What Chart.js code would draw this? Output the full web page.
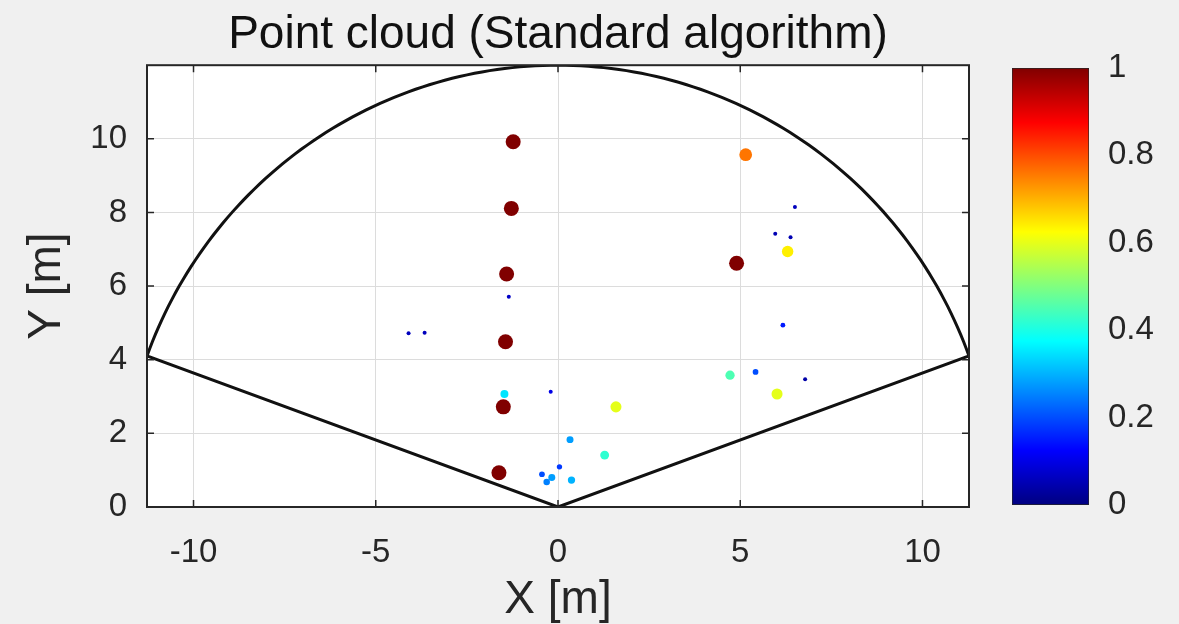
<!DOCTYPE html>
<html>
<head>
<meta charset="utf-8">
<script src="https://cdn.jsdelivr.net/npm/chart.js@4.4.1/dist/chart.umd.min.js"></script>
<style>
  html, body { margin: 0; padding: 0; background: #f0f0f0; }
  #wrap { position: relative; width: 1179px; height: 624px; overflow: hidden; }
  #cloud { position: absolute; left: 0; top: 0; }
  #cbar { position: absolute; left: 1011px; top: 0; }
</style>
</head>
<body>
<div id="wrap">
  <canvas id="cloud" width="1000" height="624"></canvas>
  <canvas id="cbar" width="168" height="624"></canvas>
</div>
<script>
// detected points (x, y in metres, normalised intensity)
const pointX = [-1.23, -1.28, -1.41, -1.44, -1.50, -1.62, 4.90, 5.15, 6.30, 6.01, 1.59,
  4.72, 1.28, 0.33, 0.37, -0.17, -0.31, -0.44, 0.04, -1.47, -0.20, 5.42, 6.17,
  -1.35, -4.10, -3.66, 6.50, 5.96, 6.38, 6.78];
const pointY = [9.92, 8.11, 6.33, 4.49, 2.72, 0.93, 6.62, 9.57, 6.94, 3.07, 2.72,
  3.58, 1.41, 1.83, 0.73, 0.80, 0.68, 0.89, 1.09, 3.07, 3.13, 3.67, 4.94,
  5.71, 4.72, 4.73, 8.15, 7.42, 7.33, 3.47];
const pointValue = [1, 1, 1, 1, 1, 1, 1, 0.76, 0.64, 0.6, 0.6,
  0.45, 0.42, 0.28, 0.3, 0.28, 0.25, 0.2, 0.18, 0.35, 0.1, 0.2, 0.15,
  0.07, 0.06, 0.06, 0.06, 0.05, 0.05, 0.04];

// sensor field of view
const fovRadius = 12;
const fovStartDeg = 20;
const fovEndDeg = 160;

const xTicks = [-10, -5, 0, 5, 10];
const yTicks = [0, 2, 4, 6, 8, 10];
const cbTicks = [0, 0.2, 0.4, 0.6, 0.8, 1];
const jetStops = [0, 0.125, 0.375, 0.625, 0.875, 1];

const FONT = "'Liberation Sans', Arial, sans-serif";
const INK = '#262626';

const clamp = (v) => Math.max(0, Math.min(1, v));
const jet = (v) => {
  const r = clamp(1.5 - Math.abs(4 * v - 3));
  const g = clamp(1.5 - Math.abs(4 * v - 2));
  const b = clamp(1.5 - Math.abs(4 * v - 1));
  return `rgb(${Math.round(r * 255)},${Math.round(g * 255)},${Math.round(b * 255)})`;
};

const rad = (d) => d * Math.PI / 180;
const xLimit = fovRadius * Math.cos(rad(fovStartDeg));

const fovOutline = [{ x: 0, y: 0 }];
for (let d = fovEndDeg; d >= fovStartDeg; d--) {
  fovOutline.push({ x: fovRadius * Math.cos(rad(d)), y: fovRadius * Math.sin(rad(d)) });
}
fovOutline.push({ x: 0, y: 0 });

const cloudPoints = pointX.map((x, i) => ({ x: x, y: pointY[i] }));

// white axes background, box and inward ticks like matlab
const boxPlugin = {
  id: 'box',
  beforeDraw(chart) {
    const a = chart.chartArea;
    const ctx = chart.ctx;
    ctx.save();
    ctx.fillStyle = '#ffffff';
    ctx.fillRect(a.left, a.top, a.right - a.left, a.bottom - a.top);
    ctx.restore();
  },
  afterDraw(chart) {
    const a = chart.chartArea;
    const ctx = chart.ctx;
    const xs = chart.scales.x;
    const ys = chart.scales.y;
    ctx.save();
    ctx.strokeStyle = INK;
    ctx.lineWidth = 1.5;
    ctx.beginPath();
    xTicks.forEach((v) => {
      const px = xs.getPixelForValue(v);
      ctx.moveTo(px, a.bottom); ctx.lineTo(px, a.bottom - 7);
      ctx.moveTo(px, a.top); ctx.lineTo(px, a.top + 7);
    });
    yTicks.forEach((v) => {
      const py = ys.getPixelForValue(v);
      ctx.moveTo(a.left, py); ctx.lineTo(a.left + 7, py);
      ctx.moveTo(a.right, py); ctx.lineTo(a.right - 7, py);
    });
    ctx.stroke();
    ctx.lineWidth = 2;
    ctx.strokeRect(a.left, a.top, a.right - a.left, a.bottom - a.top);
    ctx.restore();
  }
};

new Chart(document.getElementById('cloud'), {
  type: 'scatter',
  data: {
    datasets: [
      {
        label: 'points',
        data: cloudPoints,
        pointBackgroundColor: pointValue.map(jet),
        pointBorderWidth: 0,
        pointRadius: pointValue.map((v) => Math.max(2, 7.5 * Math.pow(v, 0.6))),
        order: 2
      },
      {
        type: 'line',
        label: 'fov',
        data: fovOutline,
        borderColor: '#111111',
        borderWidth: 3,
        pointRadius: 0,
        fill: false,
        tension: 0,
        order: 1
      }
    ]
  },
  options: {
    responsive: false,
    animation: false,
    layout: { padding: { left: 0, right: 31, top: 0, bottom: 0 } },
    plugins: {
      legend: { display: false },
      tooltip: { enabled: false },
      title: {
        display: true,
        fullSize: false,
        text: 'Point cloud (Standard algorithm)',
        color: '#111111',
        font: { family: FONT, size: 46, weight: 'normal' },
        padding: { top: 8, bottom: 2 }
      }
    },
    scales: {
      x: {
        type: 'linear',
        min: -xLimit,
        max: xLimit,
        afterBuildTicks: (s) => { s.ticks = xTicks.map((v) => ({ value: v })); },
        afterFit: (s) => { s.height = 117; },
        grid: { color: '#dcdcdc', lineWidth: 1, drawTicks: false },
        border: { display: false },
        ticks: { color: INK, padding: 26, font: { family: FONT, size: 33 } },
        title: {
          display: true,
          text: 'X [m]',
          color: INK,
          font: { family: FONT, size: 46, lineHeight: 1 },
          padding: { top: 0, bottom: 1 }
        }
      },
      y: {
        type: 'linear',
        min: 0,
        max: fovRadius,
        afterBuildTicks: (s) => { s.ticks = yTicks.map((v) => ({ value: v })); },
        afterFit: (s) => { s.width = 147; },
        grid: { color: '#dcdcdc', lineWidth: 1, drawTicks: false },
        border: { display: false },
        ticks: { color: INK, padding: 20, font: { family: FONT, size: 33 } },
        title: {
          display: true,
          text: 'Y [m]',
          color: INK,
          font: { family: FONT, size: 46, lineHeight: 1 },
          padding: { top: 24, bottom: 0 }
        }
      }
    }
  },
  plugins: [boxPlugin]
});

// colour bar
new Chart(document.getElementById('cbar'), {
  type: 'bar',
  data: {
    labels: [''],
    datasets: [{
      data: [1],
      backgroundColor: (ctx) => {
        const area = ctx.chart.chartArea;
        if (!area) return jet(0.5);
        const g = ctx.chart.ctx.createLinearGradient(0, area.bottom, 0, area.top);
        jetStops.forEach((v) => g.addColorStop(v, jet(v)));
        return g;
      },
      borderColor: INK,
      borderWidth: 1,
      borderSkipped: false,
      barPercentage: 1,
      categoryPercentage: 1
    }]
  },
  options: {
    responsive: false,
    animation: false,
    layout: { padding: { left: 1, right: 0, top: 68, bottom: 119 } },
    plugins: { legend: { display: false }, tooltip: { enabled: false } },
    scales: {
      x: { display: false },
      y: {
        position: 'right',
        min: 0,
        max: 1,
        afterBuildTicks: (s) => { s.ticks = cbTicks.map((v) => ({ value: v })); },
        afterFit: (s) => { s.width = 90; },
        grid: { display: false, drawTicks: false },
        border: { display: false },
        ticks: {
          color: INK,
          padding: 19,
          font: { family: FONT, size: 33 },
          callback: (v) => String(Number(v.toFixed(1)))
        }
      }
    }
  }
});
</script>
</body>
</html>
